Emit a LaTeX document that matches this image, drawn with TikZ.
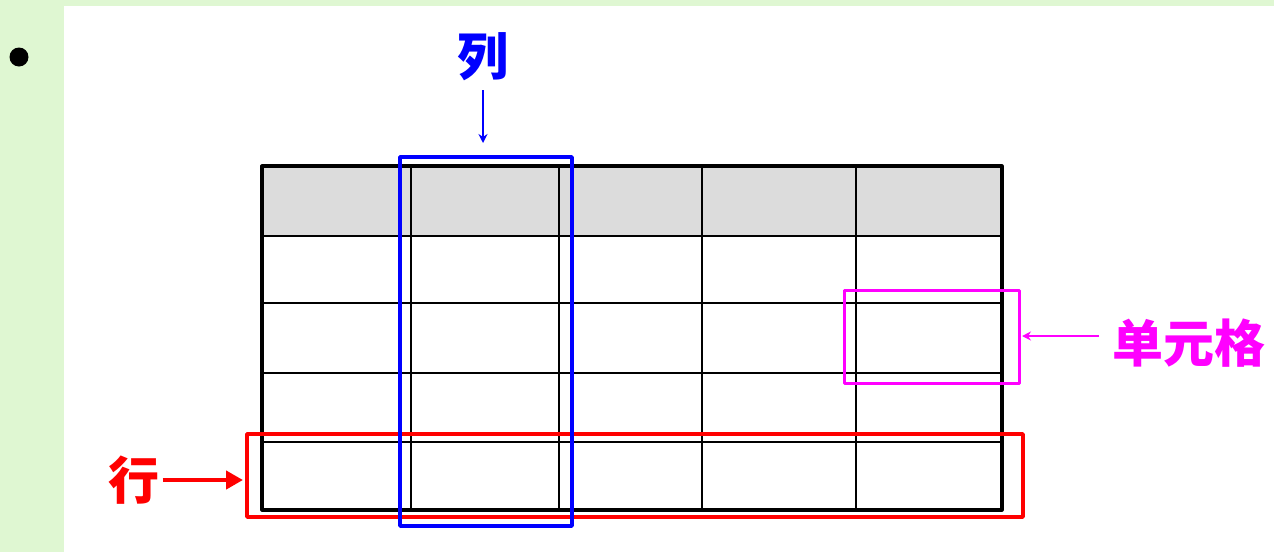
\documentclass[tikz,border=0pt]{standalone}
\usepackage{fontspec}
\newfontfamily\cjk{Noto Sans CJK SC}
\usetikzlibrary{arrows.meta}
\definecolor{bggreen}{RGB}{223,247,210}
\definecolor{headgray}{RGB}{220,220,220}
\definecolor{cellpink}{RGB}{255,0,255}
\begin{document}
\begin{tikzpicture}[x=1pt,y=-1pt,line join=round,
	lbl/.style={inner sep=3pt,font=\cjk\bfseries\fontsize{51}{51}\selectfont},
	thin/.style={line width=1.5pt},
	thick/.style={line width=3.2pt},
	mark box/.style={line width=3.5pt},
	pointer/.style={line width=2.2pt,-{Stealth[length=9pt,width=9pt]}}]
	\useasboundingbox (0,0) rectangle (1274,552);
	%% nen
	\fill[bggreen] (0,0) rectangle (1274,552);
	\fill[white] (64,6) rectangle (1274,552);
	\fill[black] (19,57) circle (9.5);
	%% bang
	\fill[headgray] (262,166) rectangle (1002,236);
	\foreach \x in {411,559,702,856}
	\draw[thin] (\x,166)--(\x,510);
	\foreach \y in {236,303,373,442}
	\draw[thin] (262,\y)--(1002,\y);
	\draw[thick] (262,166) rectangle (1002,510);
	%% khung
	\draw[mark box,red] (247,434) rectangle (1023,517);
	\draw[mark box,blue] (400,157) rectangle (572,526);
	\draw[line width=3pt,cellpink] (844,290) rectangle (1019,383);
	%% nhan
	\path
	(483,143) coordinate (lieTip)
	(1022,336) coordinate (cellTip)
	(243,480) coordinate (rowTip)
	;
	\node[lbl,blue] (lie) at (483,57) {列};
	\node[lbl,cellpink,anchor=west,inner sep=13pt] (cell) at (1099,343) {单元格};
	\node[lbl,red] (row) at (134,480) {行};
	\draw[pointer,blue,shorten <=6pt] (lie)--(lieTip);
	\draw[pointer,cellpink] (cell.west|-cellTip)--(cellTip);
	\draw[red,line width=4.5pt,-{Triangle[length=17pt,width=18pt]}] (row)--(rowTip);
\end{tikzpicture}
\end{document}
